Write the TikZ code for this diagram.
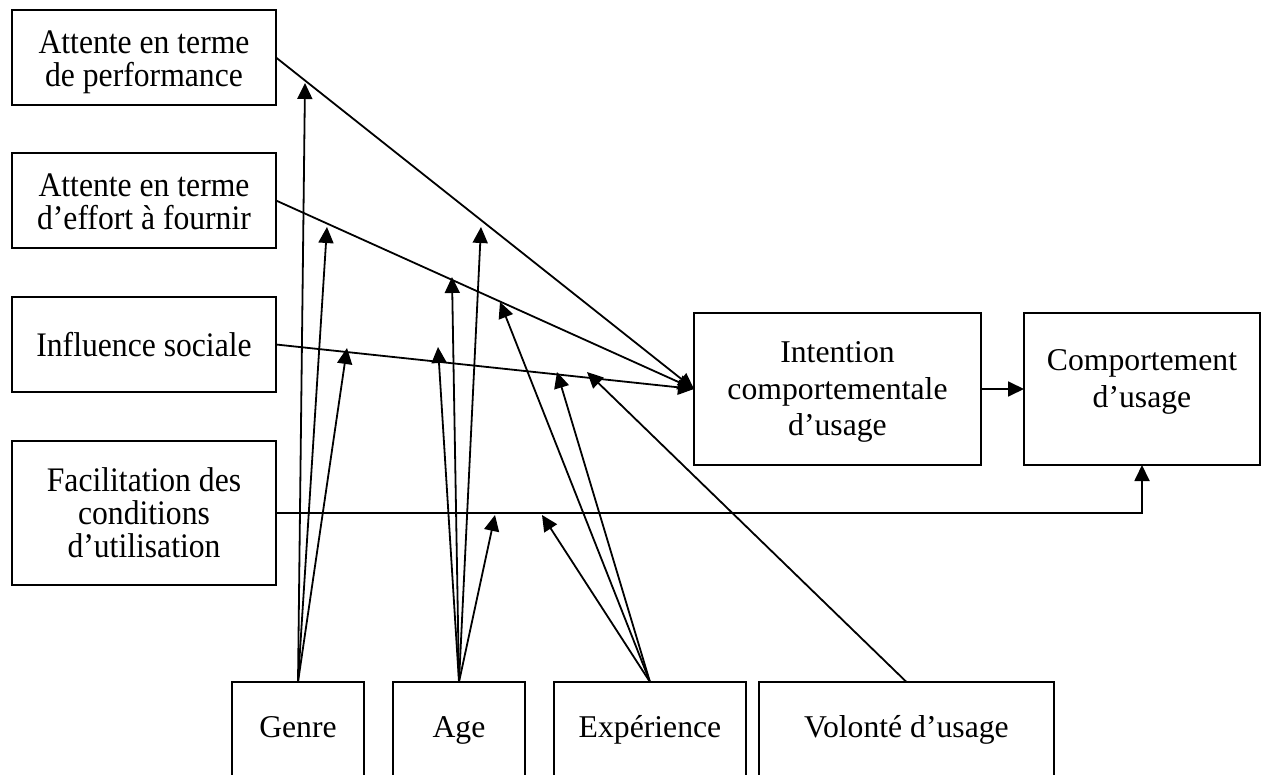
\documentclass[tikz,border=0pt]{standalone}
\usepackage{fontspec}
\setmainfont{Liberation Serif}
\newfontfamily\tallserif[FakeStretch=0.92]{Liberation Serif}
\usetikzlibrary{arrows.meta}
\newcommand\bxt[4][c]{\parbox[c][#3][#1]{#2}{\centering #4}}
\newcommand\lowtext[1]{\vspace*{27pt}\rule{0pt}{28pt}#1}
\begin{document}
\begin{tikzpicture}[x=1pt,y=-1pt,
  box/.style={draw, line width=2pt, inner sep=0pt, outer sep=0pt, font=\fontsize{31.7}{36.2}\selectfont},
  leftbox/.style={box, font=\tallserif\fontsize{34.4}{32.8}\selectfont},
  arr/.style={line width=1.8pt, -{Triangle[length=16pt,width=15pt]}}]
\useasboundingbox (0,0) rectangle (1264,775);
\clip (0,0) rectangle (1264,775);
% left column
\node[leftbox] (perf) at (144,57.5) {\bxt{264pt}{95pt}{\vspace*{10pt}Attente en terme\\de performance}};
\node[leftbox] (eff)  at (144,200.5) {\bxt{264pt}{95pt}{\vspace*{3pt}Attente en terme\\d’effort à fournir}};
\node[leftbox] (inf)  at (144,344.5) {\bxt{264pt}{95pt}{Influence sociale}};
\node[leftbox] (fac)  at (144,513) {\bxt{264pt}{144pt}{Facilitation des\\conditions\\d’utilisation}};
% right boxes
\node[box] (int)  at (837.5,389) {\bxt{287pt}{152pt}{\vspace*{6pt}Intention\\comportementale\\d’usage}};
\node[box] (comp) at (1142,389) {\bxt{236pt}{152pt}{Comportement\\d’usage\par\vspace*{14pt}}};
% bottom boxes
\node[box] (genre) at (298,751) {\bxt[t]{132pt}{138pt}{\lowtext{Genre}}};
\node[box] (age)   at (459,751) {\bxt[t]{132pt}{138pt}{\lowtext{Age}}};
\node[box] (exp)   at (650,751) {\bxt[t]{192pt}{138pt}{\lowtext{Expérience}}};
\node[box] (vol)   at (906.5,751) {\bxt[t]{295pt}{138pt}{\lowtext{Volonté d’usage}}};
% arrow targets on the links
\coordinate (g1) at (305,83);
\coordinate (g2) at (327,227);
\coordinate (g3) at (347,348);
\coordinate (a1) at (481,227);
\coordinate (a2) at (452,277);
\coordinate (a3) at (438,347);
\coordinate (a4) at (495,515);
\coordinate (e1) at (500,302);
\coordinate (e2) at (557,372);
\coordinate (e3) at (542,515);
\coordinate (v1) at (587,372);
% main links
\draw[arr] (perf.east) -- (int.west);
\draw[arr] (eff.east) -- (int.west);
\draw[arr] (inf.east) -- (int.west);
\draw[arr] (int.east) -- (comp.west);
\draw[arr] (fac.east) -| (comp.south);
% moderators
\draw[arr] (genre.north) -- (g1);
\draw[arr] (genre.north) -- (g2);
\draw[arr] (genre.north) -- (g3);
\draw[arr] (age.north) -- (a1);
\draw[arr] (age.north) -- (a2);
\draw[arr] (age.north) -- (a3);
\draw[arr] (age.north) -- (a4);
\draw[arr] (exp.north) -- (e1);
\draw[arr] (exp.north) -- (e2);
\draw[arr] (exp.north) -- (e3);
\draw[arr] (vol.north) -- (v1);
\end{tikzpicture}
\end{document}
